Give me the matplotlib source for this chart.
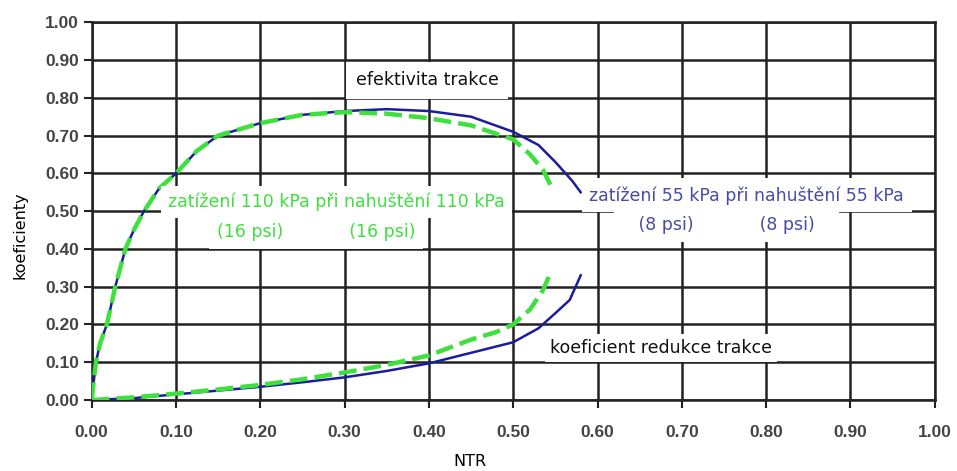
import matplotlib.pyplot as plt
import numpy as np

# traction efficiency, 55 kPa load / 55 kPa inflation (blue, solid)
te55_x = [0, 0.005, 0.01, 0.018, 0.028, 0.04, 0.05, 0.062, 0.08, 0.10, 0.125, 0.15,
          0.20, 0.25, 0.30, 0.35, 0.40, 0.45, 0.50, 0.53, 0.55, 0.57, 0.58]
te55_y = [0, 0.10, 0.15, 0.20, 0.30, 0.40, 0.45, 0.50, 0.56, 0.60, 0.66, 0.70,
          0.733, 0.755, 0.765, 0.77, 0.765, 0.75, 0.71, 0.675, 0.63, 0.58, 0.55]

# traction efficiency, 110 kPa load / 110 kPa inflation (green, dashed)
te110_x = [0, 0.005, 0.01, 0.018, 0.028, 0.04, 0.05, 0.062, 0.08, 0.10, 0.125, 0.15,
           0.20, 0.25, 0.30, 0.35, 0.40, 0.45, 0.50, 0.52, 0.535, 0.544]
te110_y = [0, 0.10, 0.15, 0.20, 0.30, 0.40, 0.45, 0.50, 0.56, 0.60, 0.66, 0.70,
           0.733, 0.755, 0.762, 0.758, 0.746, 0.727, 0.69, 0.65, 0.61, 0.57]

# traction reduction coefficient
trc55_x = [0, 0.05, 0.10, 0.15, 0.20, 0.25, 0.30, 0.35, 0.40, 0.45, 0.50, 0.53, 0.55, 0.567, 0.58]
trc55_y = [0, 0.005, 0.015, 0.025, 0.035, 0.047, 0.06, 0.077, 0.097, 0.125, 0.153, 0.19, 0.23, 0.265, 0.33]

trc110_x = [0, 0.05, 0.10, 0.15, 0.20, 0.25, 0.30, 0.35, 0.40, 0.45, 0.48, 0.50, 0.52, 0.535, 0.545]
trc110_y = [0, 0.007, 0.017, 0.028, 0.04, 0.055, 0.073, 0.093, 0.118, 0.16, 0.18, 0.20, 0.24, 0.29, 0.34]

ticks = np.arange(0, 1.01, 0.1)
tick_labels = [f"{t:.2f}" for t in ticks]

blue = '#1c1ca0'
green = '#3ee03e'
blue_txt = '#4a4aa8'
fs = 12.5

fig = plt.figure(figsize=(9.57, 4.71), dpi=100)
ax = fig.add_axes([0.0958, 0.1507, 0.881, 0.802])

ax.plot(te55_x, te55_y, color=blue, lw=1.8, zorder=3)
ax.plot(trc55_x, trc55_y, color=blue, lw=1.8, zorder=3)
ax.plot(te110_x, te110_y, color=green, lw=3.2, dashes=(4, 1.6), zorder=4)
ax.plot(trc110_x, trc110_y, color=green, lw=3.2, dashes=(4, 1.6), zorder=4)

ax.set_xlim(0, 1)
ax.set_ylim(0, 1)
ax.set_xticks(ticks)
ax.set_yticks(ticks)
ax.set_xticklabels(tick_labels)
ax.set_yticklabels(tick_labels)
ax.grid(True, color='#222222', lw=1.8, zorder=1)
ax.set_axisbelow(True)
for sp in ax.spines.values():
    sp.set_color('#222222')
    sp.set_linewidth(1.8)
ax.tick_params(axis='both', length=6, width=1.5, color='#222222',
               labelsize=12.5, labelcolor='#444444')
ax.tick_params(axis='x', pad=12)
ax.tick_params(axis='y', pad=3)
for lab in ax.get_xticklabels() + ax.get_yticklabels():
    lab.set_fontfamily('Liberation Sans')
    lab.set_fontweight('bold')

ax.set_xlabel('NTR', fontsize=11.5)
ax.set_ylabel('koeficienty', fontsize=11.5)
ax.xaxis.set_label_coords(0.449, -0.142)
ax.yaxis.set_label_coords(-0.076, 0.437)

def box(pad):
    return dict(boxstyle=f'square,pad={pad}', facecolor='white', edgecolor='none')

ax.text(0.398, 0.847, 'efektivita trakce', fontsize=fs, color='#111111',
        ha='center', va='center', bbox=box(0.55), zorder=5)
ax.text(0.29, 0.524, 'zatížení 110 kPa při nahuštění 110 kPa', fontsize=fs,
        color=green, ha='center', va='center', bbox=box(0.4), zorder=6)
ax.text(0.266, 0.444, '(16 psi)' + ' ' * 12 + '(16 psi)', fontsize=fs, color=green,
        ha='center', va='center', bbox=box(0.45), zorder=5)
ax.text(0.777, 0.542, 'zatížení 55 kPa při nahuštění 55 kPa', fontsize=fs,
        color=blue_txt, ha='center', va='center', bbox=box(0.45), zorder=6)
ax.text(0.753, 0.463, '   (8 psi)' + ' ' * 12 + '(8 psi)   ', fontsize=fs, color=blue_txt,
        ha='center', va='center', bbox=box(0.45), zorder=5)
ax.text(0.675, 0.137, 'koeficient redukce trakce', fontsize=fs, color='#111111',
        ha='center', va='center', bbox=box(0.3), zorder=5)

fig.savefig('out.png', dpi=100)
